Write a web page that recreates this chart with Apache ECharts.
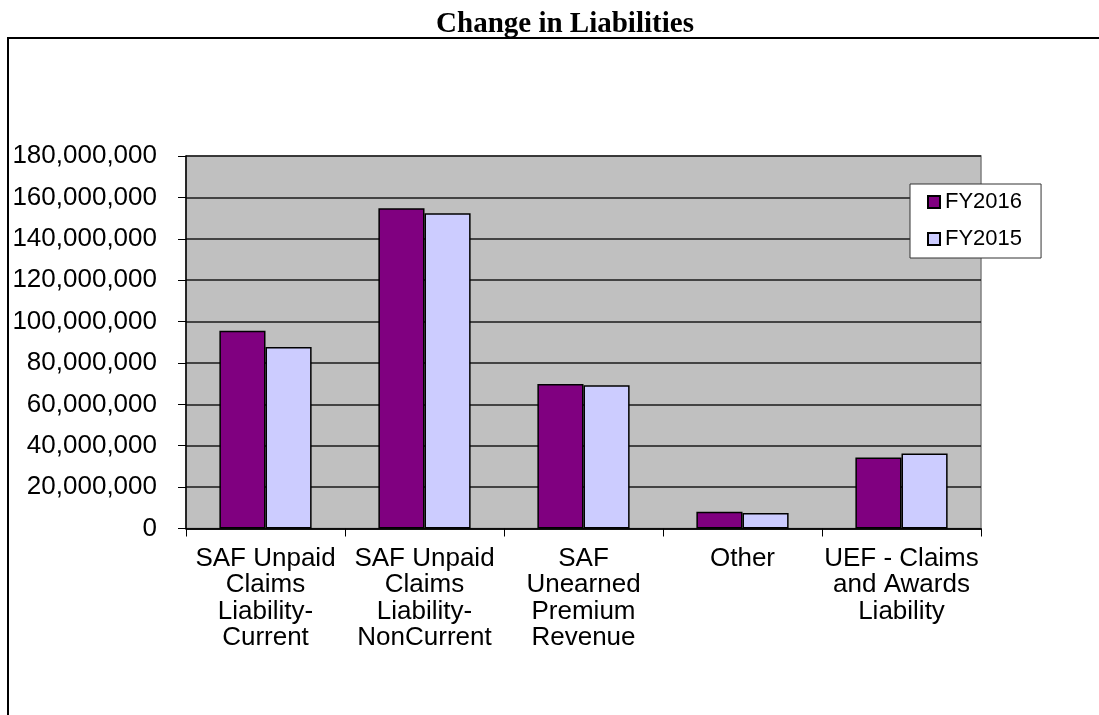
<!DOCTYPE html>
<html>
<head>
<meta charset="utf-8">
<script src="https://cdn.jsdelivr.net/npm/echarts@6/dist/echarts.min.js"></script>
<style>
html,body{margin:0;padding:0;background:#fff;}
#chart{width:1099px;height:715px;}
</style>
</head>
<body>
<div id="chart"></div>
<script>
const categories = [
  'SAF Unpaid\nClaims\nLiability-\nCurrent',
  'SAF Unpaid\nClaims\nLiability-\nNonCurrent',
  'SAF\nUnearned\nPremium\nRevenue',
  'Other',
  'UEF - Claims\nand Awards\nLiability'
];
const seriesNames = ['FY2016', 'FY2015'];
const fy2016 = [95600000, 154700000, 69800000, 8100000, 34300000];
const fy2015 = [87700000, 152300000, 69200000, 7500000, 36200000];
const yTicks = { min: 0, max: 180000000, interval: 20000000 };

const chart = echarts.init(document.getElementById('chart'));
const fmt = v => Math.round(v).toString().replace(/\B(?=(\d{3})+(?!\d))/g, ',');

chart.setOption({
  animation: false,
  backgroundColor: '#ffffff',
  title: {
    text: 'Change in Liabilities',
    left: 560, top: 5, textAlign: 'center',
    textStyle: { fontFamily: 'Liberation Serif', fontWeight: 'bold', fontSize: 29, color: '#000' }
  },
  graphic: [{
    type: 'rect', silent: true, z: -1,
    shape: { x: 8, y: 38, width: 1200, height: 800 },
    style: { fill: 'none', stroke: '#000', lineWidth: 2 }
  }],
  legend: {
    orient: 'vertical',
    left: 910, top: 184,
    padding: [7, 19, 8, 17],
    itemGap: 15,
    itemWidth: 12, itemHeight: 12,
    backgroundColor: '#fff',
    borderColor: '#333', borderWidth: 1,
    icon: 'rect',
    textStyle: { fontFamily: 'Liberation Sans', fontSize: 22, color: '#000', padding: [0, 0, 0, 0] },
    data: seriesNames
  },
  grid: {
    left: 186, right: 118, top: 156, bottom: 186.5,
    show: true, backgroundColor: '#c0c0c0', borderColor: '#808080', borderWidth: 1.5
  },
  xAxis: {
    type: 'category',
    data: categories,
    axisLine: { lineStyle: { color: '#000', width: 1.5 } },
    axisTick: { show: true, length: 8, lineStyle: { color: '#000', width: 1 } },
    axisLabel: {
      interval: 0, margin: 17,
      fontFamily: 'Liberation Sans', fontSize: 26, lineHeight: 26.5, color: '#000', align: 'center'
    }
  },
  yAxis: {
    type: 'value',
    min: yTicks.min, max: yTicks.max, interval: yTicks.interval,
    axisLine: { show: true, lineStyle: { color: '#000', width: 1.5 } },
    axisTick: { show: true, length: 8, lineStyle: { color: '#000', width: 1 } },
    splitLine: { show: true, lineStyle: { color: '#1a1a1a', width: 1.5 } },
    axisLabel: {
      margin: 29, fontFamily: 'Liberation Sans', fontSize: 26, color: '#000',
      formatter: fmt
    }
  },
  series: [
    {
      name: seriesNames[0], type: 'bar', data: fy2016,
      barGap: '0%', barCategoryGap: '42%',
      itemStyle: { color: '#800080', borderColor: '#000', borderWidth: 1.5 }
    },
    {
      name: seriesNames[1], type: 'bar', data: fy2015,
      barGap: '0%', barCategoryGap: '42%',
      itemStyle: { color: '#ccccff', borderColor: '#000', borderWidth: 1.5 }
    }
  ]
});
</script>
</body>
</html>
